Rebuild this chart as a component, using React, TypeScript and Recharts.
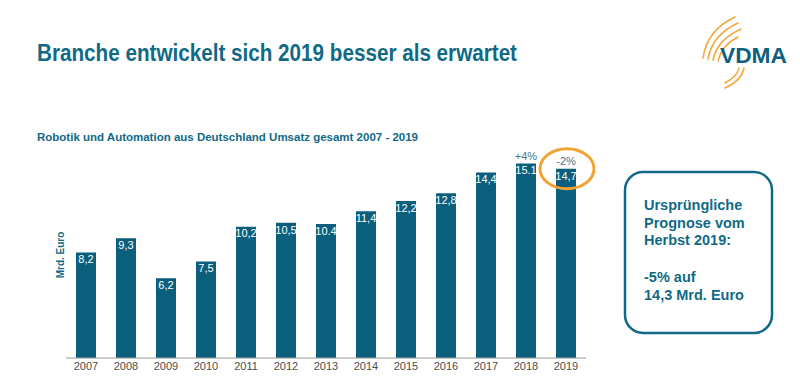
import React from 'react';
import { BarChart, Bar, XAxis, YAxis, LabelList } from 'recharts';

const years = ['2007', '2008', '2009', '2010', '2011', '2012', '2013', '2014', '2015', '2016', '2017', '2018', '2019'];
const umsatz = [8.2, 9.3, 6.2, 7.5, 10.2, 10.5, 10.4, 11.4, 12.2, 12.8, 14.4, 15.1, 14.7];
const valueLabels = ['8,2', '9,3', '6,2', '7,5', '10,2', '10,5', '10.4', '11,4', '12,2', '12,8', '14,4', '15.1', '14,7'];
const changeNotes = ['', '', '', '', '', '', '', '', '', '', '', '+4%', '-2%'];
const highlighted = [false, false, false, false, false, false, false, false, false, false, false, false, true];

const gridTicks = [0, 1, 2, 3, 4, 5, 6, 7, 8, 9, 10, 11, 12, 13];

const data = years.map((year, i) => ({
  year,
  pos: i + 0.5,
  value: umsatz[i],
  label: valueLabels[i],
  note: changeNotes[i],
  circle: highlighted[i] ? 1 : 0,
}));

const TEAL = '#106a86';
const BAR = '#0c5e7d';

const CircleMark = (props: any) => {
  const { x, y, width, value } = props;
  if (!value) return null;
  return (
    <ellipse cx={x + width / 2 + 1} cy={y} rx={27} ry={20} fill="none" stroke="#f2a22e" strokeWidth={3} />
  );
};

const Logo = () => (
  <g>
    <g fill="none" stroke="#f2a93b" strokeLinecap="round">
      <path d="M 703 58 Q 707 30 735 17" strokeWidth={1.6} />
      <path d="M 708 59 Q 712 35 738 23" strokeWidth={1.6} />
      <path d="M 713 60 Q 717 40 741 29" strokeWidth={1.6} />
      <path d="M 718 61 Q 722 45 738 37" strokeWidth={1.4} />
      <path d="M 744 68 Q 742 80 725 88" strokeWidth={1.6} />
      <path d="M 739 68 Q 737 77 725 83" strokeWidth={1.4} />
    </g>
    <text x={720} y={63} fontFamily="'Liberation Sans', Arial, sans-serif" fontWeight="bold" fontSize={22} fill="#0e5f80" textLength={67} lengthAdjust="spacingAndGlyphs">VDMA</text>
  </g>
);

export default function App() {
  return (
    <div style={{ position: 'absolute', left: 0, top: 0, width: 800, height: 379, background: '#fff', overflow: 'hidden' }}>
      <svg width={800} height={379} style={{ position: 'absolute', left: 0, top: 0 }}>
        <text x={37} y={61} fontFamily="'Liberation Sans', Arial, sans-serif" fontWeight="bold" fontSize={23} fill={TEAL} textLength={480} lengthAdjust="spacingAndGlyphs">
          Branche entwickelt sich 2019 besser als erwartet
        </text>
        <text x={37} y={141} fontFamily="'Liberation Sans', Arial, sans-serif" fontWeight="bold" fontSize={11.5} fill={TEAL} textLength={381} lengthAdjust="spacingAndGlyphs">
          Robotik und Automation aus Deutschland Umsatz gesamt 2007 - 2019
        </text>
        <text x={0} y={0} transform="translate(64 255) rotate(-90)" textAnchor="middle" fontFamily="'Liberation Sans', Arial, sans-serif" fontWeight="bold" fontSize={10} fill={TEAL}>
          Mrd. Euro
        </text>
        <Logo />
        <rect x={625} y={172} width={147} height={161} rx={18} ry={18} fill="none" stroke={TEAL} strokeWidth={2.5} />
        <g fontFamily="'Liberation Sans', Arial, sans-serif" fontWeight="bold" fontSize={14.5} fill={TEAL}>
          <text x={644} y={210}>Ursprüngliche</text>
          <text x={644} y={228}>Prognose vom</text>
          <text x={644} y={245}>Herbst 2019:</text>
          <text x={644} y={282}>-5% auf</text>
          <text x={644} y={300}>14,3 Mrd. Euro</text>
        </g>
      </svg>
      <div style={{ position: 'absolute', left: 0, top: 0 }}>
        <BarChart
          width={800}
          height={379}
          data={data}
          margin={{ top: 152, right: 214, bottom: 0, left: 66 }}
          style={{ fontFamily: "'Liberation Sans', Arial, sans-serif" }}
        >
          <XAxis
            xAxisId="a-grid"
            dataKey="pos"
            type="number"
            domain={[0, 13]}
            ticks={gridTicks}
            tick={false}
            tickSize={4}
            height={1}
            axisLine={{ stroke: '#9a9a9a' }}
            tickLine={{ stroke: '#9a9a9a' }}
            allowDataOverflow
          />
          <XAxis
            xAxisId="b-years"
            dataKey="year"
            height={20}
            axisLine={false}
            tickLine={false}
            tickSize={0}
            tickMargin={3}
            interval={0}
            tick={{ fill: '#4d4d4d', fontSize: 11 }}
          />
          <YAxis hide domain={[0, 16]} />
          <Bar xAxisId="b-years" dataKey="value" fill={BAR} barSize={20} isAnimationActive={false}>
            <LabelList dataKey="label" position="insideTop" offset={3} fill="#fff" fontSize={11} />
            <LabelList dataKey="note" position="top" offset={4} fill="#4b7888" fontSize={11} />
            <LabelList dataKey="circle" content={<CircleMark />} />
          </Bar>
        </BarChart>
      </div>
    </div>
  );
}
